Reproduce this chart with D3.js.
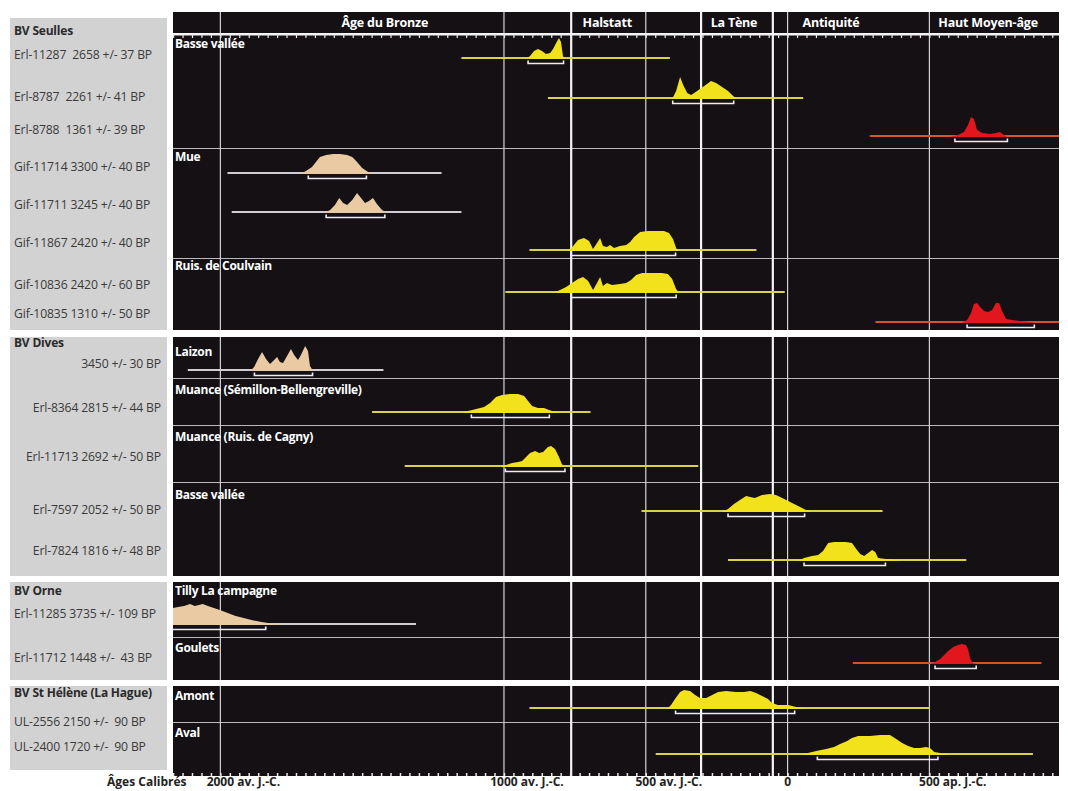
<!DOCTYPE html>
<html>
<head>
<meta charset="utf-8">
<script src="https://cdn.jsdelivr.net/npm/d3@7"></script>
<style>
body { margin: 0; background: #fff; }
text { font-family: "Open Sans", sans-serif; white-space: pre; }
</style>
</head>
<body>
<svg id="chart" width="1068" height="791"></svg>
<script>
// ---- data ----
const groupNames = ["BV Seulles", "BV Dives", "BV Orne", "BV St Hélène (La Hague)"];
const siteNames = ["Basse vallée", "Mue", "Ruis. de Coulvain", "Laizon", "Muance (Sémillon-Bellengreville)",
                   "Muance (Ruis. de Cagny)", "Basse vallée", "Tilly La campagne", "Goulets", "Amont", "Aval"];

const periodNames = ["Âge du Bronze", "Halstatt", "La Tène", "Antiquité", "Haut Moyen-âge"];
const periodLabelYear = [-1420, -636, -189, 153, 707];
const periodBounds = [-763, -305, -52];
const gridYears = [-2000, -1000, -500, 0, 500];

const axisNumbers = ["2000", "1000", "500", "0", "500"];
const axisSuffix = [" av. J.-C.", " av. J.-C.", " av. J.-C.", "", " ap. J.-C."];

const sampleLabels = [
  "Erl-11287  2658 +/- 37 BP", "Erl-8787  2261 +/- 41 BP", "Erl-8788  1361 +/- 39 BP",
  "Gif-11714 3300 +/- 40 BP", "Gif-11711 3245 +/- 40 BP", "Gif-11867 2420 +/- 40 BP",
  "Gif-10836 2420 +/- 60 BP", "Gif-10835 1310 +/- 50 BP",
  "3450 +/- 30 BP", "Erl-8364 2815 +/- 44 BP", "Erl-11713 2692 +/- 50 BP",
  "Erl-7597 2052 +/- 50 BP", "Erl-7824 1816 +/- 48 BP",
  "Erl-11285 3735 +/- 109 BP", "Erl-11712 1448 +/-  43 BP",
  "UL-2556 2150 +/-  90 BP", "UL-2400 1720 +/-  90 BP"];
const sampleGroup = [0,0,0,0,0,0,0,0,1,1,1,1,1,2,2,3,3];
// b = bronze (beige), f = fer (jaune), m = moyen-âge (rouge)
const sampleKind = ["f","f","m","b","b","f","f","m","b","f","f","f","f","b","m","f","f"];

// calibrated ranges (years, negative = av. J.-C.)
const rangeStart = [-1150, -845, 290, -1975, -1960, -910, -995, 310, -2115, -1465, -1350, -515, -210, -2200, 230, -910, -465];
const rangeEnd   = [-415, 55, 1000, -1220, -1150, -110, -10, 1000, -1425, -695, -315, 335, 630, -1310, 895, 500, 865];
const sigmaStart = [-915, -405, 590, -1690, -1627, -763, -763, 633, -1880, -1115, -995, -210, 58, -2170, 520, -395, 105];
const sigmaEnd   = [-790, -190, 775, -1485, -1420, -395, -393, 870, -1675, -840, -785, 60, 345, -1840, 665, 25, 530];

// probability distributions [year, relative probability]
const densities = [
  [[-922,0],[-908,3],[-894,8],[-880,10],[-866,8],[-852,5],[-837,6],[-827,10],[-816,16],[-806,21],[-799,17],[-792,3],[-785,0]],
  [[-407,0],[-393,8],[-379,22],[-368,14],[-354,6],[-340,4],[-319,8],[-294,13],[-270,18],[-252,16],[-231,12],[-210,8],[-192,3],[-178,0]],
  [[573,0],[601,2],[622,5],[636,12],[647,20],[657,18],[668,7],[686,4],[714,3],[735,4],[749,5],[763,2],[774,0]],
  [[-1719,0],[-1698,3],[-1677,7],[-1663,12],[-1649,17],[-1627,19],[-1603,20],[-1578,20],[-1553,19],[-1535,17],[-1518,12],[-1500,6],[-1479,2],[-1461,0]],
  [[-1634,0],[-1613,3],[-1596,8],[-1581,15],[-1567,10],[-1553,8],[-1535,13],[-1518,20],[-1504,15],[-1490,10],[-1476,12],[-1462,15],[-1448,9],[-1430,3],[-1412,0]],
  [[-774,0],[-756,5],[-739,11],[-718,13],[-700,10],[-686,2],[-672,8],[-661,13],[-651,5],[-637,4],[-626,6],[-612,3],[-591,5],[-569,6],[-555,9],[-541,14],[-520,19],[-492,20],[-464,20],[-436,20],[-418,18],[-404,12],[-393,3],[-386,0]],
  [[-830,0],[-802,3],[-781,6],[-760,10],[-739,14],[-721,16],[-703,12],[-686,3],[-672,10],[-661,16],[-651,7],[-637,10],[-619,8],[-591,9],[-569,10],[-552,13],[-534,18],[-513,20],[-478,20],[-443,20],[-422,19],[-407,14],[-393,4],[-382,0]],
  [[615,0],[633,3],[647,10],[657,19],[668,20],[679,16],[693,12],[707,11],[721,13],[735,20],[746,20],[756,12],[771,4],[792,3],[820,2],[855,1],[876,0]],
  [[-1895,0],[-1881,4],[-1867,12],[-1853,19],[-1839,12],[-1825,7],[-1814,10],[-1800,14],[-1790,9],[-1779,8],[-1765,15],[-1751,22],[-1740,16],[-1726,11],[-1716,16],[-1701,25],[-1691,20],[-1684,5],[-1673,0]],
  [[-1148,0],[-1127,2],[-1098,4],[-1070,6],[-1049,10],[-1028,16],[-1007,18],[-979,19],[-950,19],[-929,17],[-915,12],[-901,7],[-880,5],[-859,5],[-841,3],[-820,1],[-802,0]],
  [[-1014,0],[-993,2],[-971,4],[-950,5],[-936,6],[-922,10],[-908,14],[-890,16],[-876,14],[-862,15],[-845,20],[-834,21],[-820,18],[-806,10],[-796,3],[-785,0]],
  [[-231,0],[-210,3],[-189,8],[-168,12],[-146,16],[-132,15],[-115,14],[-90,17],[-62,18],[-41,17],[-12,13],[16,9],[44,5],[65,2],[83,0]],
  [[37,0],[58,3],[86,5],[108,6],[125,10],[143,18],[164,19],[206,19],[227,18],[242,12],[256,7],[270,5],[284,8],[298,11],[309,9],[319,3],[347,2],[379,1],[397,0]],
  [[-2213,16],[-2167,17],[-2149,18],[-2128,19],[-2107,21],[-2090,19],[-2076,20],[-2062,21],[-2044,19],[-2023,17],[-2002,15],[-1974,12],[-1946,9],[-1918,7],[-1890,5],[-1855,3],[-1820,1.5],[-1774,0]],
  [[502,0],[520,2],[538,5],[552,9],[566,13],[584,17],[601,19],[615,20],[629,19],[636,15],[644,5],[654,1],[665,0]],
  [[-425,0],[-411,4],[-397,10],[-379,17],[-365,19],[-344,18],[-326,14],[-309,11],[-287,11],[-266,14],[-245,17],[-217,18],[-182,17],[-153,17],[-132,18],[-111,16],[-90,13],[-69,10],[-55,6],[-34,4],[2,4],[30,2],[62,0]],
  [[44,0],[72,2],[101,4],[136,6],[164,8],[185,11],[210,14],[227,17],[249,19],[291,19],[326,20],[361,20],[383,16],[404,12],[425,9],[446,7],[467,7],[488,8],[502,7],[517,3],[538,2],[573,0]]
];

// ---- layout ----
let svg = d3.select("#chart"),
    plotLeft = 173, plotRight = 1059,
    headerTop = 12, headerBottom = 33,
    groupTop = [35, 337, 582, 686],
    groupBottom = [330, 576, 680, 776],
    greyTop = [18, 337, 582, 686],
    greyBottom = [330, 576, 680, 770],
    groupLabelY = [35, 347, 595, 697],
    siteTop = [35, 148, 258, 337, 378, 425, 482, 582, 637, 686, 722],
    siteLabelY = [48, 161, 270, 356, 394, 441, 499, 595, 652, 700, 737],
    rowY = [58, 98, 136, 173, 212, 250, 292, 322, 370, 412, 466, 511, 560, 624, 663, 708, 754],
    labelY = [59, 101, 134, 171, 209, 247, 289, 318, 368, 412, 461, 514, 555, 618, 662, 726, 751],
    black = "#141014";

let fillColor = {f: "#f2e21c", b: "#e9caa3", m: "#e2161d"},
    lineColor = {f: "#d8d24a", b: "#cfcdd2", m: "#d4552c"};

let x = d3.scaleLinear().domain([-2167, 957]).range([plotLeft, plotRight]);
let h = d3.scaleLinear().domain([0, 25]).range([0, 25]);

svg.append("defs").append("clipPath").attr("id", "plotclip")
   .append("rect").attr("x", plotLeft).attr("y", 0)
   .attr("width", plotRight - plotLeft).attr("height", 791);

// grey label boxes
svg.selectAll(".grey").data(groupNames).enter().append("rect")
   .attr("x", 10).attr("width", 157)
   .attr("y", (d, i) => greyTop[i])
   .attr("height", (d, i) => greyBottom[i] - greyTop[i])
   .attr("fill", "#d2d2d2");

// black panels
svg.append("rect").attr("x", plotLeft).attr("y", headerTop)
   .attr("width", plotRight - plotLeft).attr("height", headerBottom - headerTop).attr("fill", black);
svg.selectAll(".panel").data(groupNames).enter().append("rect")
   .attr("x", plotLeft).attr("width", plotRight - plotLeft)
   .attr("y", (d, i) => groupTop[i])
   .attr("height", (d, i) => groupBottom[i] - groupTop[i])
   .attr("fill", black);

// site separators
svg.selectAll(".sep").data(siteTop.filter(y => groupTop.indexOf(y) < 0)).enter().append("line")
   .attr("x1", plotLeft).attr("x2", plotRight)
   .attr("y1", d => d + 0.5).attr("y2", d => d + 0.5)
   .attr("stroke", "#b9b9bd").attr("stroke-width", 1.2);

// vertical lines (drawn per block so gaps stay white)
let blocks = [[headerTop, headerBottom + 1]].concat(groupTop.map((t, i) => [t, groupBottom[i]]));
blocks.forEach(function(b) {
    svg.selectAll(null).data(gridYears).enter().append("line")
       .attr("x1", d => x(d)).attr("x2", d => x(d))
       .attr("y1", b[0]).attr("y2", b[1])
       .attr("stroke", "#d4d4d8").attr("stroke-width", 1.2);
    svg.selectAll(null).data(periodBounds).enter().append("line")
       .attr("x1", d => x(d)).attr("x2", d => x(d))
       .attr("y1", b[0]).attr("y2", b[1])
       .attr("stroke", "#f4f4f4").attr("stroke-width", 2.2);
});

// header labels
svg.selectAll(".period").data(periodNames).enter().append("text")
   .attr("x", (d, i) => x(periodLabelYear[i]))
   .attr("y", 27)
   .attr("text-anchor", "middle")
   .style("font-size", "12.5px").style("font-weight", "bold").style("letter-spacing", "-0.2px")
   .attr("fill", "#fff")
   .text(d => d);

// top / bottom tick axes
let tickVals = d3.range(-65, 29).map(k => k * 100 / 3);
let topAxis = svg.append("g").attr("transform", "translate(0,34)")
   .call(d3.axisBottom(x).tickValues(tickVals).tickSize(4).tickSizeOuter(0).tickFormat(""));
let botAxis = svg.append("g").attr("transform", "translate(0,776)")
   .call(d3.axisTop(x).tickValues(tickVals).tickSize(3).tickSizeOuter(0).tickFormat(""));
topAxis.select(".domain").attr("stroke", "#f2f2f2").attr("stroke-width", 2.2);
botAxis.select(".domain").remove();
topAxis.selectAll(".tick line").attr("stroke", "#e8e8e8").attr("stroke-width", 1.2);
botAxis.selectAll(".tick line").attr("stroke", "#e8e8e8").attr("stroke-width", 1.5);

// site labels
svg.selectAll(".site").data(siteNames).enter().append("text")
   .attr("x", plotLeft + 2).attr("y", (d, i) => siteLabelY[i])
   .style("font-size", "12px").style("font-weight", "bold").style("letter-spacing", "-0.3px")
   .attr("fill", "#fff")
   .text(d => d);

// group labels
svg.selectAll(".group").data(groupNames).enter().append("text")
   .attr("x", 14).attr("y", (d, i) => groupLabelY[i])
   .style("font-size", "12px").style("font-weight", "bold").style("letter-spacing", "-0.2px")
   .attr("fill", "#2a2a2a")
   .text(d => d);

// sample labels
svg.selectAll(".sample").data(sampleLabels).enter().append("text")
   .attr("x", (d, i) => sampleGroup[i] == 1 ? 161 : 14)
   .attr("text-anchor", (d, i) => sampleGroup[i] == 1 ? "end" : "start")
   .attr("y", (d, i) => labelY[i])
   .style("font-size", "12.2px").style("letter-spacing", "-0.15px")
   .attr("fill", "#3a3a3a")
   .text(d => d);

// distributions
let plot = svg.append("g").attr("clip-path", "url(#plotclip)");

plot.selectAll(".range").data(sampleLabels).enter().append("line")
    .attr("x1", (d, i) => x(rangeStart[i])).attr("x2", (d, i) => x(rangeEnd[i]))
    .attr("y1", (d, i) => rowY[i]).attr("y2", (d, i) => rowY[i])
    .attr("stroke", (d, i) => lineColor[sampleKind[i]]).attr("stroke-width", 2.2);

let area = d3.area().x(p => x(p[0]));
plot.selectAll(".dens").data(densities).enter().append("path")
    .attr("d", (d, i) => area.y0(rowY[i] + 1).y1(p => rowY[i] + 1 - h(p[1]))(d))
    .attr("fill", (d, i) => fillColor[sampleKind[i]]);

plot.selectAll(".sigma").data(sampleLabels).enter().append("path")
    .attr("d", function(d, i) {
        let y = rowY[i] + 5.5, a = x(sigmaStart[i]), b = x(sigmaEnd[i]);
        return "M" + a + "," + (y - 3) + "V" + y + "H" + b + "V" + (y - 3);
    })
    .attr("fill", "none").attr("stroke", "#ececf4").attr("stroke-width", 1.6);

// bottom labels
svg.append("text").attr("x", 107).attr("y", 786)
   .style("font-size", "12px").style("font-weight", "bold").attr("fill", "#222")
   .text("Âges Calibrés");

svg.selectAll(".xlab").data(gridYears).enter().append("text")
   .attr("y", 786)
   .style("font-size", "12px").style("font-weight", "bold").attr("fill", "#222")
   .each(function(d, i) {
       let t = d3.select(this);
       let num = t.append("tspan").text(axisNumbers[i]);
       let w = num.node().getComputedTextLength();
       t.append("tspan").text(axisSuffix[i]);
       t.attr("x", x(d) - w / 2);
   });
</script>
</body>
</html>
